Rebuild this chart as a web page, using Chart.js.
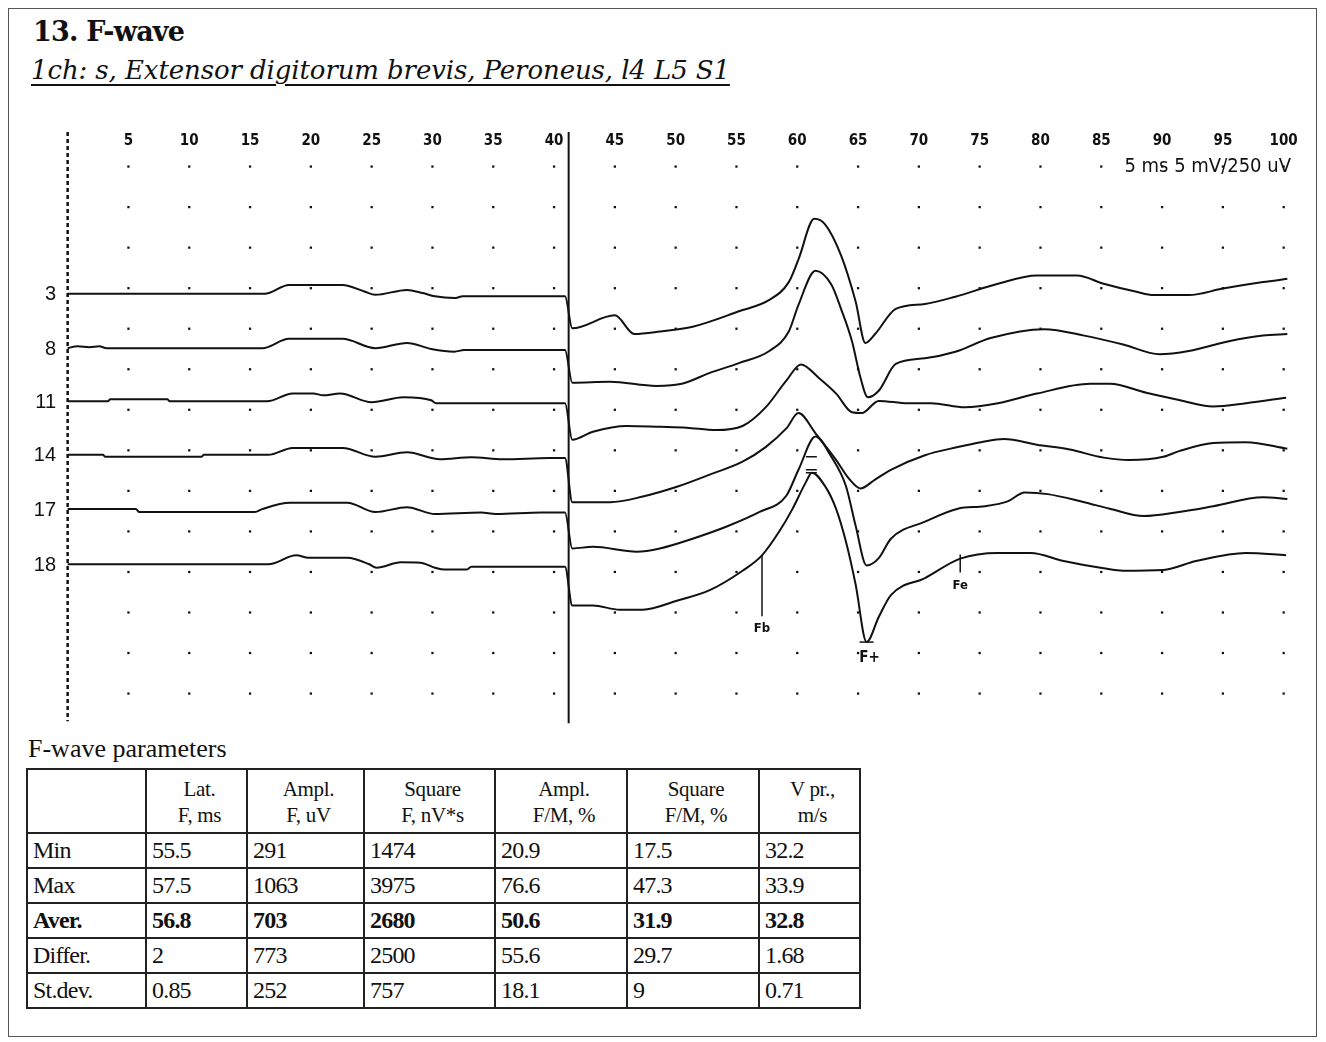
<!DOCTYPE html>
<html>
<head>
<meta charset="utf-8">
<script src="https://cdn.jsdelivr.net/npm/chart.js@4.4.1/dist/chart.umd.min.js"></script>
<style>
  body { margin: 0; background: #fff; }
  #page { position: relative; width: 1326px; height: 1042px; overflow: hidden; background: #fff; color: #111; }
  #frame { position: absolute; left: 8px; top: 8px; width: 1307px; height: 1027px; border: 1px solid #555; }
  #title { position: absolute; left: 33px; top: 16px; font: bold 27px "DejaVu Serif"; letter-spacing: -0.8px; }
  #sub { position: absolute; left: 31px; top: 55px; font: italic 26px "DejaVu Serif"; letter-spacing: -0.1px;
         text-decoration: underline; text-decoration-thickness: 2px; text-underline-offset: 5px; }
  #plot { position: absolute; left: 15px; top: 120px; }
  #ptitle { position: absolute; left: 28px; top: 734px; font: 26px "Liberation Serif"; }
  table { position: absolute; left: 26px; top: 768px; border-collapse: collapse; font-family: "Liberation Serif"; }
  td { border: 2px solid #222; padding: 0 0 0 5px; font-size: 24px; height: 33px; letter-spacing: -0.8px; }
  tr.head td { height: 60px; font-size: 21px; line-height: 26px; text-align: center; padding: 2px 0 0 6px; letter-spacing: -0.3px; }
  tr.bold td { font-weight: bold; }
</style>
</head>
<body>
<div id="page">
  <div id="frame"></div>
  <div id="title">13. F-wave</div>
  <div id="sub">1ch: s, Extensor digitorum brevis, Peroneus, l4 L5 S1</div>
  <div id="plot"><canvas id="c" width="1297" height="610"></canvas></div>
  <div id="ptitle">F-wave parameters</div>
  <table id="tbl"></table>
</div>
<script>
// time axis (ms) and grid
const tickValues = [5, 10, 15, 20, 25, 30, 35, 40, 45, 50, 55, 60, 65, 70, 75, 80, 85, 90, 95, 100];
const tickLabels = ['5', '10', '15', '20', '25', '30', '35', '40', '45', '50', '55', '60', '65', '70', '75', '80', '85', '90', '95', '100'];
const gridRows = [0, 1, 2, 3, 4, 5, 6, 7, 8, 9, 10, 11, 12, 13]; // divisions
const scaleText = '5 ms 5 mV/250 uV';

// traces: number, baseline (in divisions) left and right of stimulus
const traceNames = ['3', '8', '11', '14', '17', '18'];
const leftBase = [9.86, 8.52, 7.21, 5.89, 4.55, 3.19];
const rightBase = [9.01, 7.67, 6.26, 4.72, 3.58, 2.17];
const stimTime = 41.2;

// left part (0..41 ms), [ms, mV], 5 mV/div
const left3 = [[0, 0], [16.2, 0], [18.2, 1.1], [22.6, 1.1], [24.4, 0.3], [25.3, -0.12], [27.9, 0.49], [29.2, 0.1], [30.2, -0.3], [31.8, -0.52], [32.5, -0.3], [40.9, -0.3]];
const left8 = [[0, 0], [0.8, 0.24], [1.8, 0.12], [2.6, 0.24], [3.2, 0], [16, 0], [18.2, 1.15], [22.6, 1.15], [25.3, 0], [27.9, 0.65], [29.9, -0.1], [31.8, -0.43], [32.6, -0.24], [40.9, -0.24]];
const left11 = [[0, 0], [3.3, 0], [3.5, 0.24], [8.2, 0.24], [8.4, 0], [16.4, 0], [18.5, 0.97], [20.2, 0.97], [21, 0.73], [22.4, 0.97], [25, -0.12], [27.6, 0.49], [29.9, 0.12], [30.3, -0.24], [40.9, -0.24]];
const left14 = [[0, 0], [2.9, 0], [3.1, -0.24], [11, -0.24], [11.2, 0], [16.5, 0], [18.5, 0.85], [22.6, 0.85], [25.3, -0.24], [27.9, 0.3], [30.6, -0.55], [33.2, -0.3], [35.8, -0.55], [39.6, -0.4], [40.9, -0.4]];
const left17 = [[0, 0], [5.6, 0], [5.9, -0.37], [15.4, -0.37], [16, 0], [18.3, 0.78], [23, 0.78], [25.3, -0.37], [27.9, 0.24], [30.2, -0.6], [34, -0.43], [35.2, -0.6], [39, -0.43], [40.9, -0.43]];
const left18 = [[0, 0], [16.5, 0], [18.8, 1.1], [19.8, 0.8], [23, 0.8], [24.8, 0], [25.4, -0.43], [27.4, 0.24], [29, 0.2], [30.2, -0.43], [31, -0.66], [32.8, -0.66], [33.2, -0.3], [40.9, -0.3]];

// right part (41..100 ms), [ms, uV], 250 uV/div
const right3 = [[41.5, 0], [45, 80], [46.6, -35], [48.7, -20], [51.4, 10], [55.2, 105], [57.7, 175], [59.3, 285], [60.1, 425], [61.4, 675], [62.3, 640], [63.6, 450], [64.8, 165], [65.6, -90], [66.4, -35], [68.1, 120], [70.5, 150], [73, 195], [76.5, 275], [79.7, 325], [83, 325], [85.2, 275], [87.9, 225], [89.3, 205], [92.2, 205], [95, 245], [98.3, 285], [100.3, 305]];
const right8 = [[41.5, 0], [44.6, 5], [48.4, -20], [50.6, -5], [52.8, 60], [55.2, 120], [57.7, 195], [59.3, 315], [60.1, 480], [61.5, 690], [62.8, 605], [63.6, 455], [64.5, 255], [65.2, 30], [65.8, -90], [66.7, -50], [68.1, 115], [70.5, 150], [73, 190], [75.9, 275], [80.3, 330], [83.6, 290], [86.8, 235], [89.8, 175], [92.2, 195], [95.5, 255], [98.3, 290], [100.3, 300]];
const right11 = [[41.5, 0], [43.2, 50], [46, 85], [48.7, 80], [50.9, 75], [53.3, 60], [55.5, 85], [57.4, 200], [59.1, 365], [60.3, 465], [61.8, 380], [63.2, 285], [64.5, 170], [65.3, 165], [66.7, 240], [69.1, 225], [71, 225], [73.8, 200], [76.5, 225], [79.7, 285], [84.1, 345], [85.7, 345], [88.7, 290], [91.4, 245], [94.2, 205], [96.9, 225], [100.2, 260]];
const right14 = [[41.5, 0], [44.6, 0], [47.3, 35], [50.1, 95], [52.8, 170], [55.5, 250], [57.4, 340], [59.1, 455], [60.1, 550], [61.5, 425], [63.2, 260], [64.2, 150], [65.2, 85], [66.4, 140], [67.7, 200], [70.5, 290], [73.2, 340], [75.1, 370], [77, 390], [79.7, 355], [82.4, 325], [85.2, 275], [87.3, 260], [90.1, 280], [91.4, 315], [94.2, 365], [96.9, 370], [100.3, 330]];
const right17 = [[41.5, 0], [43.2, 10], [46.8, -20], [48.7, 0], [51.4, 60], [54.2, 135], [56.9, 225], [59.1, 325], [60.1, 485], [61.5, 690], [62.8, 565], [64, 385], [64.8, 140], [65.7, -105], [66.7, -60], [67.7, 60], [70.5, 165], [73.2, 245], [75.4, 260], [77.3, 290], [78.7, 345], [80.6, 335], [83.6, 285], [85.7, 245], [88.5, 200], [91.4, 225], [94.2, 260], [98.3, 315], [100.3, 305]];
const right18 = [[41.5, 0], [43.2, 0], [45.4, -25], [47.3, -25], [50.1, 30], [52.8, 95], [55.5, 215], [57.1, 310], [58.5, 455], [59.6, 595], [60.7, 760], [61.2, 820], [62.3, 735], [63.2, 595], [64, 395], [64.8, 130], [65.7, -225], [66.7, -70], [67.7, 65], [70.5, 170], [73.4, 290], [76.5, 325], [79.2, 325], [81.9, 275], [85.2, 230], [86.8, 215], [90.1, 220], [92.8, 275], [96.9, 325], [100.2, 310]];

const leftParts = [left3, left8, left11, left14, left17, left18];
const rightParts = [right3, right8, right11, right14, right17, right18];

// markers on trace 18: Fb, F+, Fe (ms, uV)
const markerNames = ['Fb', 'F+', 'Fe'];
const markerTimes = [57.1, 65.7, 73.4];
const markerValues = [310, -225, 290];
const peakTime = 61.2, peakValue = 820;

// table
const headCols = [['Lat.', 'F, ms'], ['Ampl.', 'F, uV'], ['Square', 'F, nV*s'], ['Ampl.', 'F/M, %'], ['Square', 'F/M, %'], ['V pr.,', 'm/s']];
const rowLabels = ['Min', 'Max', 'Aver.', 'Differ.', 'St.dev.'];
const minRow = [55.5, 291, 1474, 20.9, 17.5, 32.2];
const maxRow = [57.5, 1063, 3975, 76.6, 47.3, 33.9];
const averRow = [56.8, 703, 2680, 50.6, 31.9, 32.8];
const differRow = [2, 773, 2500, 55.6, 29.7, 1.68];
const stdevRow = [0.85, 252, 757, 18.1, 9, 0.71];

// build table
const tableRows = [minRow, maxRow, averRow, differRow, stdevRow];
const colWidths = [118, 101, 117, 131, 132, 132, 101];
const tbl = document.getElementById('tbl');
let html = '<tr class="head"><td style="width:' + (colWidths[0] - 7) + 'px"></td>';
headCols.forEach((h, i) => {
  html += '<td style="width:' + (colWidths[i + 1] - 8) + 'px">' + h[0] + '<br>' + h[1] + '</td>';
});
html += '</tr>';
tableRows.forEach((r, i) => {
  html += '<tr' + (i === 2 ? ' class="bold"' : '') + '><td>' + rowLabels[i] + '</td>';
  r.forEach(v => { html += '<td>' + v + '</td>'; });
  html += '</tr>';
});
tbl.innerHTML = html;

// chart datasets
const traceSets = traceNames.map((n, i) => ({
  label: 'trace ' + n,
  data: leftParts[i].map(p => ({ x: p[0], y: leftBase[i] + p[1] / 5 }))
    .concat(rightParts[i].map(p => ({ x: p[0], y: rightBase[i] + p[1] / 250 }))),
  borderColor: '#111',
  borderWidth: 2,
  pointRadius: 0,
  cubicInterpolationMode: 'monotone',
  fill: false
}));

const dots = [];
gridRows.forEach(r => tickValues.forEach(t => dots.push({ x: t, y: r })));

const annot = {
  id: 'annot',
  afterDatasetsDraw(chart) {
    const { ctx } = chart;
    const x = chart.scales.x, y = chart.scales.y;
    ctx.save();
    ctx.strokeStyle = '#111';
    ctx.fillStyle = '#111';

    // dashed zero line
    ctx.lineWidth = 2.5;
    ctx.setLineDash([4, 3]);
    ctx.beginPath();
    ctx.moveTo(x.getPixelForValue(0), y.getPixelForValue(13.85));
    ctx.lineTo(x.getPixelForValue(0), y.getPixelForValue(-0.68));
    ctx.stroke();
    ctx.setLineDash([]);

    // stimulus line
    ctx.lineWidth = 2;
    ctx.beginPath();
    ctx.moveTo(x.getPixelForValue(stimTime), y.getPixelForValue(13.85));
    ctx.lineTo(x.getPixelForValue(stimTime), y.getPixelForValue(-0.73));
    ctx.stroke();

    // tick labels
    ctx.font = 'bold 15px "DejaVu Sans Condensed"';
    ctx.textAlign = 'center';
    ctx.textBaseline = 'middle';
    tickLabels.forEach((l, i) => ctx.fillText(l, x.getPixelForValue(tickValues[i]), y.getPixelForValue(13.63)));

    // scale text
    ctx.font = '20px "DejaVu Sans Condensed"';
    ctx.textAlign = 'right';
    ctx.fillText(scaleText, x.getPixelForValue(100.6), y.getPixelForValue(13.0));

    // trace numbers
    ctx.font = '20px "Liberation Sans"';
    traceNames.forEach((n, i) => ctx.fillText(n, x.getPixelForValue(-0.95), y.getPixelForValue(leftBase[i]) + 1));

    // markers
    const base = rightBase[5];
    ctx.lineWidth = 1.5;
    ctx.textAlign = 'center';
    markerNames.forEach((m, i) => {
      const px = x.getPixelForValue(markerTimes[i]);
      const py = y.getPixelForValue(base + markerValues[i] / 250);
      ctx.beginPath();
      if (m === 'Fb') {
        ctx.font = 'bold 13px "DejaVu Sans Condensed"';
        ctx.moveTo(px, py); ctx.lineTo(px, py + 61);
        ctx.stroke();
        ctx.fillText(m, px, py + 73);
      } else if (m === 'Fe') {
        ctx.font = 'bold 13px "DejaVu Sans Condensed"';
        ctx.moveTo(px, py - 4); ctx.lineTo(px, py + 14);
        ctx.stroke();
        ctx.fillText(m, px, py + 27);
      } else {
        ctx.font = 'bold 15px "DejaVu Sans Condensed"';
        ctx.moveTo(px - 7, py); ctx.lineTo(px + 7, py);
        ctx.stroke();
        ctx.fillText(m, px + 3, py + 16);
      }
    });
    // peak ticks
    const kx = x.getPixelForValue(peakTime);
    const ky = y.getPixelForValue(base + peakValue / 250);
    ctx.beginPath();
    [-16, -3, 0].forEach(d => { ctx.moveTo(kx - 6, ky + d); ctx.lineTo(kx + 5, ky + d); });
    ctx.stroke();
    ctx.restore();
  }
};

new Chart(document.getElementById('c'), {
  type: 'line',
  data: {
    datasets: traceSets.concat([{
      type: 'scatter',
      label: 'grid',
      data: dots,
      pointStyle: 'rect',
      pointRadius: 1.6,
      pointBackgroundColor: '#111',
      pointBorderWidth: 0,
      showLine: false
    }])
  },
  options: {
    responsive: false,
    animation: false,
    layout: { padding: 0 },
    plugins: { legend: { display: false }, tooltip: { enabled: false } },
    scales: {
      x: { type: 'linear', min: -4, max: 102, display: false },
      y: { type: 'linear', min: -0.8, max: 14.05, display: false }
    }
  },
  plugins: [annot]
});
</script>
</body>
</html>
